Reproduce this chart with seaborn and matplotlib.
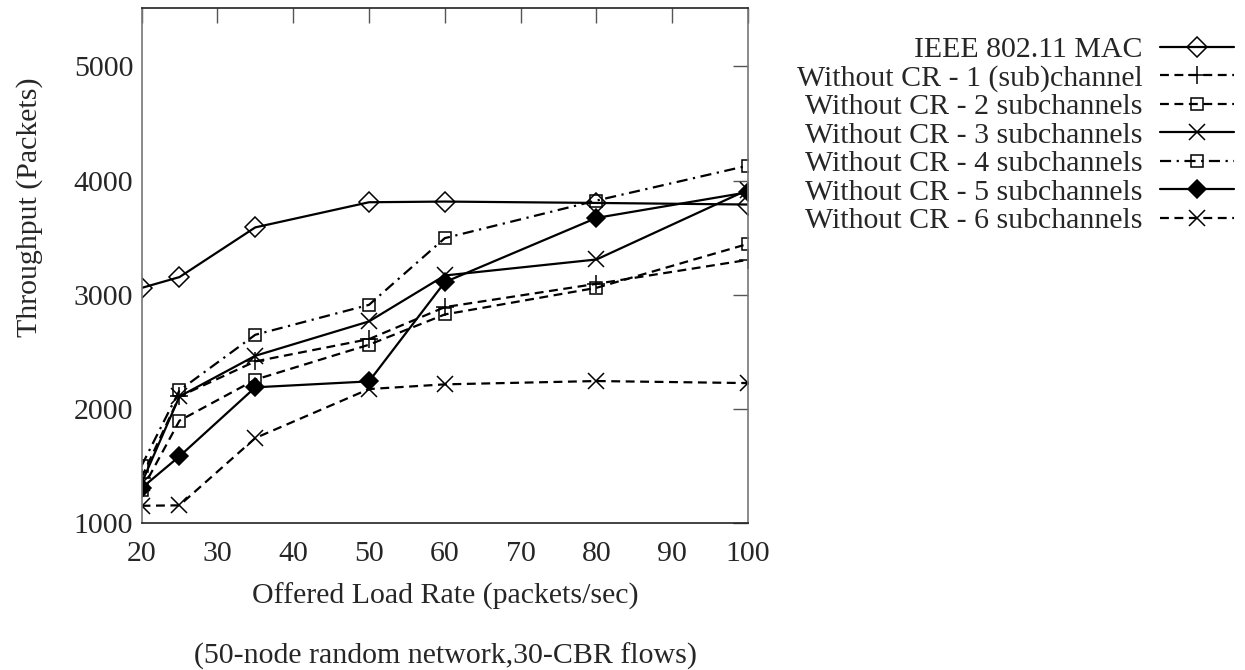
import numpy as np
import pandas as pd
import seaborn as sns
from matplotlib import pyplot as plt

load = [20, 25, 35, 50, 60, 80, 100]

ieee = [3060, 3155, 3590, 3810, 3816, 3804, 3790]
cr1 = [1400, 2110, 2417, 2612, 2892, 3096, 3306]
cr2 = [1287, 1898, 2257, 2563, 2828, 3061, 3446]
cr3 = [1350, 2110, 2466, 2767, 3169, 3309, 3920]
cr4 = [1503, 2163, 2650, 2912, 3496, 3825, 4131]
cr5 = [1308, 1586, 2190, 2242, 3111, 3673, 3898]
cr6 = [1153, 1157, 1746, 2175, 2216, 2245, 2227]

labels = ['IEEE 802.11 MAC',
          'Without CR - 1 (sub)channel',
          'Without CR - 2 subchannels',
          'Without CR - 3 subchannels',
          'Without CR - 4 subchannels',
          'Without CR - 5 subchannels',
          'Without CR - 6 subchannels']
series = [ieee, cr1, cr2, cr3, cr4, cr5, cr6]

xticks = [20, 30, 40, 50, 60, 70, 80, 90, 100]
yticks = [1000, 2000, 3000, 4000, 5000]

# estilo de cada curva (tipo gnuplot)
styles = [
    dict(marker='D', ls='-', mfc='none', ms=10),
    dict(marker='+', ls=(0, (4, 2.5)), mfc='none', ms=13),
    dict(marker='s', ls=(0, (4, 2.5)), mfc='none', ms=9),
    dict(marker='x', ls='-', mfc='none', ms=11),
    dict(marker='s', ls=(0, (5, 2.5, 1, 2.5)), mfc='none', ms=9),
    dict(marker='D', ls='-', mfc='black', ms=9),
    dict(marker='x', ls=(0, (4, 2.5)), mfc='none', ms=11),
]

fs = 21.5

sns.set_style('white')
plt.rcParams['font.family'] = ['Liberation Serif', 'DejaVu Serif']
plt.rcParams['font.size'] = fs

fig = plt.figure(figsize=(12.45, 6.7), dpi=100)
ax = fig.add_axes([0.1137, 0.219, 0.4872, 0.769])

for data, label, st in zip(series, labels, styles):
    sns.lineplot(x=load, y=data, ax=ax, color='black', label=label,
                 linestyle=st['ls'], marker=st['marker'], markersize=st['ms'],
                 markerfacecolor=st['mfc'], markeredgecolor='black',
                 markeredgewidth=1.1, linewidth=1.6)

ax.set_xlim(20, 100)
ax.set_ylim(1000, 5510)
ax.set_xticks(xticks)
ax.set_yticks(yticks)
ax.tick_params(direction='in', length=11, width=1, color='#555555',
               top=True, right=True, labelsize=fs)
ax.tick_params(axis='x', pad=13)
ax.tick_params(axis='y', pad=6)
for side, s in ax.spines.items():
    s.set_color('#222222' if side in ('top', 'bottom') else '#777777')
    s.set_linewidth(1.2)

ax.set_xlabel('Offered Load Rate (packets/sec)', fontsize=fs, labelpad=11)
ax.set_ylabel('Throughput (Packets)', fontsize=fs, va='center')
ax.yaxis.set_label_coords(-0.184, 0.614)
fig.text(0.3575, 1 - 656 / 670, '(50-node random network,30-CBR flows)',
         ha='center', va='center', fontsize=fs)

leg = ax.legend(loc='upper right', bbox_to_anchor=(0.9915, 0.9456),
                bbox_transform=fig.transFigure, frameon=False,
                markerfirst=False, handlelength=2.5, handletextpad=0.57,
                labelspacing=0.05, borderpad=0, borderaxespad=0, fontsize=fs)

fig.savefig('out.png', dpi=100)
